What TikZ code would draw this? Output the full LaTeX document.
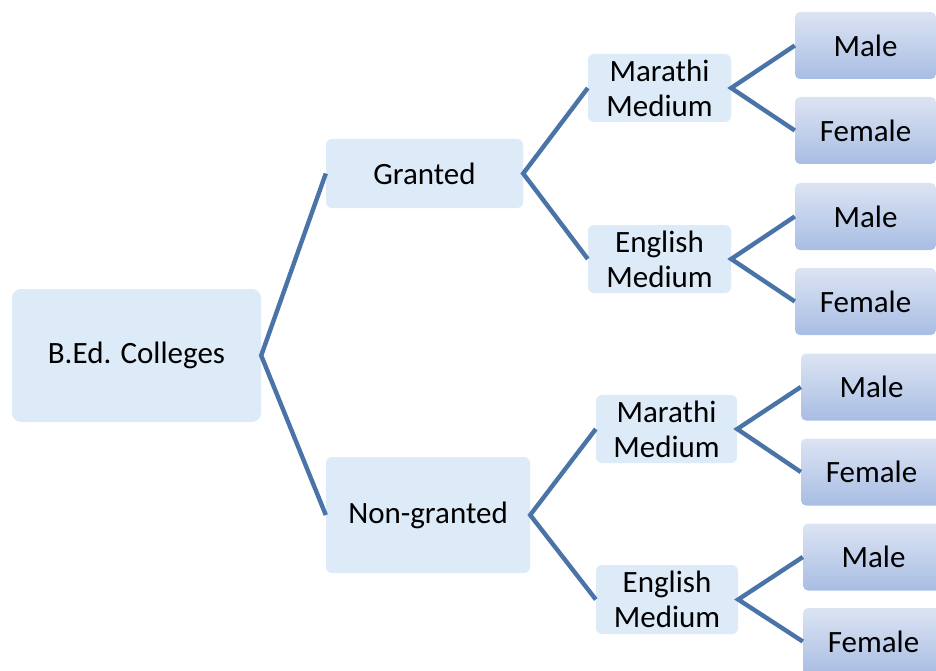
\documentclass[tikz,border=0pt]{standalone}
\usepackage{fontspec}
\setmainfont{Carlito}
\definecolor{linkblue}{HTML}{4A73A8}
\definecolor{paleblue}{HTML}{DDEAF7}
\definecolor{leaftop}{HTML}{DCE4F3}
\definecolor{leafbot}{HTML}{A8BDE3}
\begin{document}
\begin{tikzpicture}[x=1pt,y=-1pt,
    every node/.style={font=\fontsize{31}{35}\selectfont, align=center, inner sep=0pt},
    group/.style={fill=paleblue, rounded corners=6pt},
    leaf/.style={top color=leaftop, bottom color=leafbot, rounded corners=5pt,
      minimum width=141pt, minimum height=67pt},
    link/.style={draw=linkblue, line width=4.4pt}]
      \useasboundingbox (0,0) rectangle (936,671);
      \clip (0,0) rectangle (936,671);

      \node[group, rounded corners=9pt, minimum width=249pt, minimum height=133pt]
        (ROOT) at (136.5,355.5) {B.Ed. Colleges};
      \node[group, minimum width=197pt, minimum height=69pt] (GR) at (424.5,173.5) {Granted};
      \node[group, minimum width=204pt, minimum height=116pt] (NG) at (428,515) {Non-granted};

      \node[group, minimum width=143pt, minimum height=68pt] (MM1) at (659.5,88) {Marathi\\Medium};
      \node[group, minimum width=143pt, minimum height=68pt] (EM1) at (659.5,259) {English\\Medium};
      \node[group, minimum width=141pt, minimum height=68pt] (MM2) at (666.5,429) {Marathi\\Medium};
      \node[group, minimum width=142pt, minimum height=69pt] (EM2) at (667,599.5) {English\\Medium};

      \node[leaf] (M1) at (865.5,45.5) {Male};
      \node[leaf] (F1) at (865.5,130.5) {Female};
      \node[leaf] (M2) at (865.5,216.5) {Male};
      \node[leaf] (F2) at (865.5,301.5) {Female};
      \node[leaf] (M3) at (871.5,387) {Male};
      \node[leaf] (F3) at (871.5,472) {Female};
      \node[leaf] (M4) at (873.5,557) {Male};
      \node[leaf] (F4) at (873.5,641.5) {Female};

      \draw[link] (GR.west) -- (ROOT.east) -- (NG.west);
      \draw[link] (MM1.west) -- (GR.east) -- (EM1.west);
      \draw[link] (MM2.west) -- (NG.east) -- (EM2.west);

      \draw[link] (M1.west) -- (MM1.east) -- (F1.west);
      \draw[link] (M2.west) -- (EM1.east) -- (F2.west);
      \draw[link] (M3.west) -- (MM2.east) -- (F3.west);
      \draw[link] (M4.west) -- (EM2.east) -- (F4.west);
\end{tikzpicture}
\end{document}
